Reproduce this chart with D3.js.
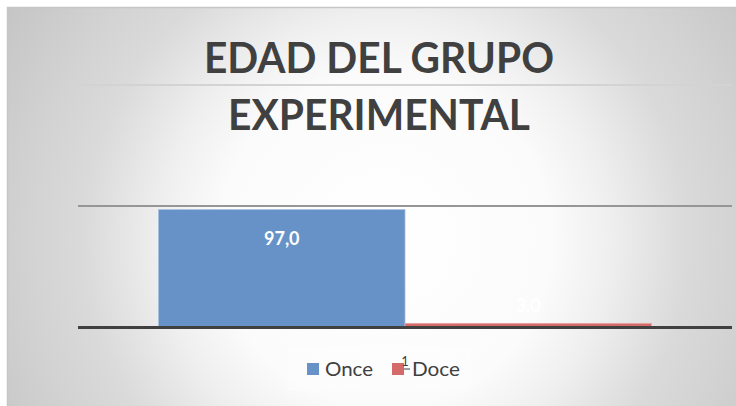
<!DOCTYPE html>
<html>
<head>
<meta charset="utf-8">
<script src="https://cdn.jsdelivr.net/npm/d3@7"></script>
<style>
  html, body { margin: 0; padding: 0; background: #fff; }
  svg { display: block; }
</style>
</head>
<body>
<div id="chart"></div>
<script>
const categories = ["Once", "Doce"]
const values = [97.0, 3.0]
const valueLabels = ["97,0", "3,0"]
const gridTicks = [0, 100, 200]
const titleLines = ["EDAD DEL GRUPO", "EXPERIMENTAL"]
const colors = ["#6792c7", "#d46a6a"]

const width = 736, height = 406
const font = "Lato, Calibri, 'Open Sans', sans-serif"

const svg = d3.select("#chart").append("svg")
  .attr("width", width)
  .attr("height", height)

// background: radial grey -> white like the office chart area
const grad = svg.append("defs").append("radialGradient")
  .attr("id", "bg")
  .attr("gradientUnits", "userSpaceOnUse")
  .attr("cx", 385).attr("cy", 240).attr("r", 450)
grad.selectAll("stop")
  .data([[0, "#ffffff"], [0.37, "#fbfbfb"], [0.5, "#efefef"], [0.67, "#dadada"], [0.8, "#d2d2d2"], [1, "#c4c4c4"]])
  .join("stop")
  .attr("offset", d => d[0])
  .attr("stop-color", d => d[1])

svg.append("rect")
  .attr("x", 7).attr("y", 7)
  .attr("width", width - 7).attr("height", height - 7)
  .attr("fill", "url(#bg)")
svg.append("path")
  .attr("d", `M7.5,${height}V7.5H${width}`)
  .attr("fill", "none")
  .attr("stroke", "#c6c6c6")
  .attr("stroke-width", 1.5)

const x = d3.scaleBand()
  .domain(categories)
  .range([78, 732])
  .paddingInner(0)
  .paddingOuter(0.327)

const y = d3.scaleLinear()
  .domain([0, 200])
  .range([327, 85])

// gridlines
svg.append("g")
  .selectAll("line")
  .data(gridTicks.filter(t => t > 0))
  .join("line")
  .attr("x1", 78).attr("x2", 732)
  .attr("y1", d => y(d)).attr("y2", d => y(d))
  .attr("stroke", d => d === 100 ? "#969696" : "#d3d3d3")
  .attr("stroke-width", 2)

// title
const titleTargets = [350, 302]
svg.append("g")
  .attr("font-family", font)
  .attr("font-weight", "bold")
  .attr("font-size", 42)
  .attr("fill", "#404040")
  .attr("text-anchor", "middle")
  .selectAll("text")
  .data(titleLines)
  .join("text")
  .attr("x", 379)
  .attr("y", (d, i) => [73, 130][i])
  .attr("textLength", (d, i) => titleTargets[i])
  .attr("lengthAdjust", "spacingAndGlyphs")
  .text(d => d)

// bars
svg.append("g")
  .selectAll("rect")
  .data(values)
  .join("rect")
  .attr("x", (d, i) => x(categories[i]))
  .attr("y", d => y(d))
  .attr("width", x.bandwidth())
  .attr("height", d => y(0) - y(d))
  .attr("fill", (d, i) => colors[i])
  .attr("stroke", (d, i) => i === 0 ? "#a4bfe0" : "#e6a3a3")
  .attr("stroke-width", 0.8)

// baseline
svg.append("line")
  .attr("x1", 78).attr("x2", 732)
  .attr("y1", y(0) + 0.5).attr("y2", y(0) + 0.5)
  .attr("stroke", "#404040")
  .attr("stroke-width", 3)

// value labels
svg.append("g")
  .attr("font-family", font)
  .attr("font-weight", "bold")
  .attr("font-size", 18)
  .attr("fill", "#fff")
  .attr("text-anchor", "middle")
  .selectAll("text")
  .data(values)
  .join("text")
  .attr("x", (d, i) => x(categories[i]) + x.bandwidth() / 2)
  .attr("y", d => Math.min(y(d) + 35, y(0) - 15))
  .text((d, i) => valueLabels[i])

// legend
svg.append("rect")
  .attr("x", 288).attr("y", 347)
  .attr("width", 183).attr("height", 44)
  .attr("fill", "#fff")
  .attr("fill-opacity", 0.3)

const legendX = [307, 392]
const legend = svg.append("g")
  .attr("font-family", font)
  .attr("font-size", 19)
  .attr("fill", "#404040")
const item = legend.selectAll("g")
  .data(categories)
  .join("g")
  .attr("transform", (d, i) => `translate(${legendX[i]},363)`)
item.append("rect")
  .attr("width", 12).attr("height", 12)
  .attr("fill", (d, i) => colors[i])
item.append("text")
  .attr("x", (d, i) => i === 0 ? 18 : 20)
  .attr("y", 13)
  .attr("textLength", 48)
  .attr("lengthAdjust", "spacingAndGlyphs")
  .text(d => d)
// stray "1" mark next to the second legend key
legend.append("text")
  .attr("x", 405).attr("y", 366)
  .attr("font-size", 13)
  .attr("text-anchor", "middle")
  .text("1")
legend.append("line")
  .attr("x1", 404).attr("x2", 410)
  .attr("y1", 369).attr("y2", 369)
  .attr("stroke", "#404040")
  .attr("stroke-width", 1)
</script>
</body>
</html>
